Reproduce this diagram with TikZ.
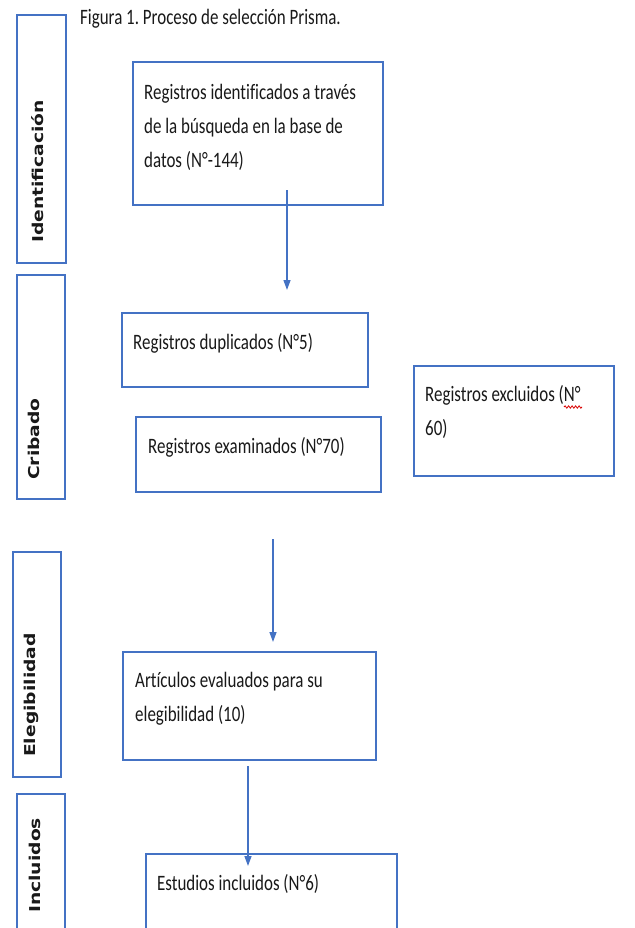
\documentclass[tikz,border=0pt]{standalone}
\usepackage{fontspec}
\setmainfont{Carlito}[Ligatures=NoCommon]
\newfontfamily\sidefont{DejaVu Sans}
\usetikzlibrary{arrows.meta,decorations.pathmorphing}
\definecolor{boxblue}{HTML}{4472C4}
\frenchspacing
\newcommand\mytxtfont{\fontsize{22}{34}\selectfont}
\newcommand\sq[1]{\scalebox{0.77}[1]{\begin{tabular}[t]{@{}l@{}}#1\end{tabular}}}
\begin{document}
\begin{tikzpicture}[x=1pt,y=-1pt,
  frame/.style={draw=boxblue,line width=1.3pt},
  txt/.style={inner sep=0pt,anchor=base west,font=\mytxtfont,text=black!90},
  side/.style={inner sep=0pt,rotate=90,anchor=base west,
    font=\sidefont\bfseries\fontsize{18.7}{20}\selectfont,text=black!90},
  conn/.style={draw=boxblue,line width=1.3pt,-{Triangle[width=7pt,length=10pt]}}]
\fill[white] (0,0) rectangle (634,928);
\useasboundingbox (0,0) rectangle (634,928);

% title
\node[txt] (title) at (80,25) {\sq{Figura 1. Proceso de selección Prisma.}};

% side boxes
\draw[frame] (17,15) rectangle (66,263);
\draw[frame] (17,275) rectangle (65,499);
\draw[frame] (13,552) rectangle (61,777);
\draw[frame] (17,794) rectangle (65,945);
\node[side] (lid) at (43,243) {\scalebox{1}[0.8]{Identificación}};
\node[side] (lcr) at (39,480) {\scalebox{1}[0.8]{Cribado}};
\node[side] (lel) at (35,757) {\scalebox{1}[0.8]{Elegibilidad}};
\node[side] (lin) at (40,913) {\scalebox{1}[0.8]{Incluidos}};

% main boxes
\draw[frame] (133,62) rectangle (383,205);
\draw[frame] (122,313) rectangle (368,387);
\draw[frame] (136,417) rectangle (381,492);
\draw[frame] (414,366) rectangle (614,476);
\draw[frame] (123,652) rectangle (376,760);
\draw[frame] (146,854) rectangle (397,945);

\node[txt] (t1) at (144,100) {\sq{Registros identificados a través\\de la búsqueda en la base de\\datos (N°-144)}};
\node[txt] (t2) at (133,349) {\sq{Registros duplicados (N°5)}};
\node[txt] (t3) at (148,453) {\sq{Registros examinados (N°70)}};
\node[txt] (t4) at (425,401) {\sq{Registros excluidos (N°\\60)}};
\node[txt] (t5) at (135,687) {\sq{Artículos evaluados para su\\elegibilidad (10)}};
\node[txt] (t6) at (157,890) {\sq{Estudios incluidos (N°6)}};

% spell-check squiggle
\draw[red!85!black,line width=0.8pt,decorate,
  decoration={snake,amplitude=1.2pt,segment length=3.5pt}] (564,407) -- (582,407);

% connectors
\coordinate (a1s) at (287,190); \coordinate (a1e) at (287,290);
\coordinate (a2s) at (273,539); \coordinate (a2e) at (273,642);
\coordinate (a3s) at (248,766); \coordinate (a3e) at (248,866);
\draw[conn] (a1s) -- (a1e);
\draw[conn] (a2s) -- (a2e);
\draw[conn] (a3s) -- (a3e);
\end{tikzpicture}
\end{document}
